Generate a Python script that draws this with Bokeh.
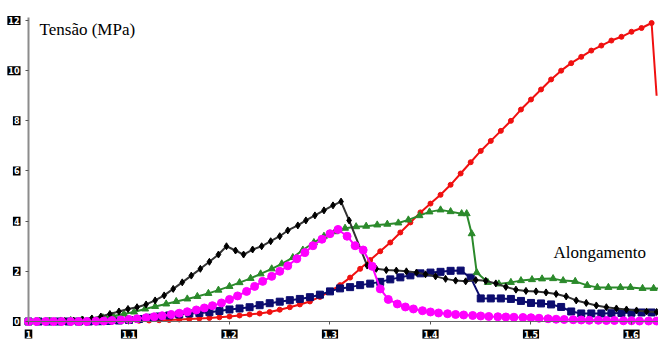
from bokeh.plotting import figure
from bokeh.models import Range1d, FixedTicker, Label
from bokeh.embed import file_html
from bokeh.resources import INLINE

# ---- data ----
red_x = [1.00, 1.01, 1.02, 1.03, 1.04, 1.05, 1.06, 1.07, 1.08, 1.09, 1.10, 1.11, 1.12, 1.13, 1.14,
         1.15, 1.16, 1.17, 1.18, 1.19, 1.20, 1.21, 1.22, 1.23, 1.24, 1.25, 1.26, 1.27, 1.28, 1.29,
         1.30, 1.31, 1.32, 1.33, 1.34, 1.35, 1.36, 1.37, 1.38, 1.39, 1.40, 1.41, 1.42, 1.43, 1.44,
         1.45, 1.46, 1.47, 1.48, 1.49, 1.50, 1.51, 1.52, 1.53, 1.54, 1.55, 1.56, 1.57, 1.58, 1.59,
         1.60, 1.61, 1.62, 1.625]
red_y = [0, 0, 0, 0, 0, 0, 0, 0, 0, 0.01, 0.02, 0.03, 0.04, 0.05, 0.06,
         0.08, 0.10, 0.12, 0.14, 0.17, 0.20, 0.24, 0.28, 0.32, 0.38, 0.47, 0.57, 0.68, 0.80, 0.98,
         1.20, 1.45, 1.75, 2.10, 2.45, 2.80, 3.15, 3.55, 3.95, 4.35, 4.70, 5.05, 5.45, 5.90, 6.35,
         6.80, 7.20, 7.60, 8.00, 8.45, 8.85, 9.25, 9.65, 10.0, 10.3, 10.55, 10.8, 11.0, 11.2, 11.35,
         11.55, 11.7, 11.9, 9.0]

black_x = [1.000, 1.009, 1.018, 1.027, 1.036, 1.045, 1.054, 1.063, 1.072, 1.081, 1.090, 1.099,
           1.108, 1.117, 1.126, 1.135, 1.144, 1.153, 1.162, 1.171, 1.180, 1.189, 1.197, 1.206,
           1.214, 1.223, 1.232, 1.241, 1.250, 1.258, 1.268, 1.276, 1.285, 1.294, 1.303, 1.311,
           1.319, 1.337, 1.346, 1.356, 1.366, 1.376, 1.386, 1.395, 1.405, 1.415, 1.425, 1.435,
           1.445, 1.455, 1.465, 1.475, 1.485, 1.495, 1.505, 1.515, 1.525, 1.535, 1.545, 1.555,
           1.565, 1.575, 1.585, 1.595, 1.605, 1.615, 1.625]
black_y = [0, 0, 0, 0, 0.02, 0.04, 0.07, 0.12, 0.20, 0.30, 0.40, 0.50,
           0.57, 0.68, 0.84, 1.04, 1.30, 1.56, 1.83, 2.10, 2.38, 2.67, 3.00, 2.83,
           2.67, 2.87, 3.00, 3.20, 3.40, 3.63, 3.83, 4.03, 4.23, 4.43, 4.63, 4.78,
           4.03, 2.23, 2.10, 2.05, 2.03, 2.00, 1.95, 1.88, 1.80, 1.70, 1.63, 1.60,
           1.65, 1.62, 1.52, 1.38, 1.27, 1.22, 1.20, 1.16, 1.10, 1.00, 0.84, 0.74,
           0.64, 0.57, 0.52, 0.48, 0.44, 0.40, 0.38]

green_x = [1.000, 1.011, 1.021, 1.032, 1.042, 1.053, 1.063, 1.074, 1.084, 1.095, 1.105, 1.116,
           1.126, 1.137, 1.147, 1.158, 1.168, 1.179, 1.189, 1.200, 1.210, 1.221, 1.231, 1.242,
           1.252, 1.263, 1.273, 1.284, 1.294, 1.305, 1.315, 1.326, 1.336, 1.347, 1.357, 1.368,
           1.378, 1.389, 1.399, 1.410, 1.420, 1.431, 1.436, 1.441, 1.446, 1.457, 1.468, 1.480,
           1.490, 1.501, 1.511, 1.522, 1.532, 1.544, 1.556, 1.566, 1.577, 1.589, 1.599, 1.611,
           1.622, 1.632]
green_y = [0, 0, 0.01, 0.02, 0.04, 0.06, 0.10, 0.15, 0.22, 0.30, 0.38, 0.50,
           0.60, 0.70, 0.80, 0.90, 1.00, 1.12, 1.25, 1.40, 1.55, 1.72, 1.90, 2.10,
           2.30, 2.55, 2.85, 3.15, 3.40, 3.58, 3.72, 3.78, 3.80, 3.85, 3.88, 3.93,
           4.05, 4.22, 4.37, 4.45, 4.38, 4.30, 4.30, 3.50, 1.95, 1.56, 1.50, 1.56,
           1.63, 1.67, 1.70, 1.71, 1.63, 1.60, 1.44, 1.36, 1.36, 1.36, 1.36, 1.32,
           1.32, 1.30]

navy_x = [1.00, 1.01, 1.02, 1.03, 1.04, 1.05, 1.06, 1.07, 1.08, 1.09, 1.10, 1.11, 1.12, 1.13,
          1.14, 1.15, 1.16, 1.17, 1.18, 1.19, 1.20, 1.21, 1.22, 1.23, 1.24, 1.25, 1.26, 1.27,
          1.28, 1.29, 1.30, 1.31, 1.32, 1.33, 1.34, 1.35, 1.36, 1.37, 1.38, 1.39, 1.40, 1.41,
          1.42, 1.43, 1.44, 1.45, 1.46, 1.47, 1.48, 1.49, 1.50, 1.51, 1.52, 1.53, 1.54, 1.55,
          1.56, 1.57, 1.58, 1.59, 1.60, 1.61, 1.62]
navy_y = [0, 0, 0, 0, 0, 0, 0, 0.01, 0.02, 0.04, 0.06, 0.10, 0.15, 0.20,
          0.24, 0.28, 0.32, 0.34, 0.37, 0.42, 0.48, 0.52, 0.57, 0.65, 0.73, 0.79, 0.85, 0.90,
          0.97, 1.07, 1.20, 1.32, 1.37, 1.45, 1.51, 1.58, 1.68, 1.76, 1.84, 1.92, 1.95, 1.98,
          2.02, 2.03, 1.75, 0.92, 0.92, 0.92, 0.90, 0.82, 0.74, 0.72, 0.68, 0.58, 0.40, 0.32,
          0.32, 0.32, 0.33, 0.34, 0.35, 0.36, 0.36]

magenta_x = [1.000, 1.008, 1.017, 1.025, 1.033, 1.042, 1.050, 1.058, 1.067, 1.075, 1.083, 1.092,
             1.100, 1.108, 1.117, 1.125, 1.133, 1.142, 1.150, 1.158, 1.167, 1.175, 1.183, 1.192,
             1.200, 1.208, 1.217, 1.225, 1.233, 1.242, 1.250, 1.258, 1.267, 1.275, 1.283, 1.292,
             1.300, 1.308, 1.317, 1.325, 1.333, 1.342, 1.350, 1.358, 1.367, 1.375, 1.383, 1.392,
             1.400, 1.408, 1.417, 1.425, 1.433, 1.442, 1.450, 1.458, 1.467, 1.475, 1.483, 1.492,
             1.500, 1.508, 1.517, 1.525, 1.533, 1.542, 1.550, 1.558, 1.567, 1.575, 1.583, 1.592,
             1.600, 1.608, 1.617, 1.625]
magenta_y = [0, 0, 0, 0, 0, 0, 0, 0, 0.01, 0.02, 0.04, 0.06,
             0.08, 0.11, 0.15, 0.19, 0.23, 0.28, 0.33, 0.39, 0.46, 0.54, 0.63, 0.74,
             0.88, 1.02, 1.20, 1.40, 1.60, 1.80, 2.00, 2.22, 2.50, 2.75, 3.02, 3.28,
             3.50, 3.67, 3.40, 3.02, 2.85, 2.20, 1.30, 0.88, 0.70, 0.58, 0.50, 0.43,
             0.38, 0.34, 0.31, 0.28, 0.26, 0.24, 0.22, 0.20, 0.19, 0.18, 0.17, 0.16,
             0.15, 0.13, 0.11, 0.09, 0.08, 0.07, 0.06, 0.05, 0.05, 0.04, 0.04, 0.03,
             0.03, 0.02, 0.02, 0.02]

x_ticks = [1.0, 1.1, 1.2, 1.3, 1.4, 1.5, 1.6]
x_tick_labels = ["1", "1.1", "1.2", "1.3", "1.4", "1.5", "1.6"]
y_ticks = [0, 2, 4, 6, 8, 10, 12]
y_tick_labels = ["0", "2", "4", "6", "8", "10", "12"]

y_title = "Tensão (MPa)"
x_title = "Alongamento"

# ---- figure ----
p = figure(width=658, height=342, output_backend="svg", toolbar_location=None,
           x_range=Range1d(0.97214, 1.62687), y_range=Range1d(-0.837, 12.797),
           min_border_left=0, min_border_right=0, min_border_top=0, min_border_bottom=0)
p.outline_line_color = None
p.grid.visible = False
p.background_fill_color = "white"
p.border_fill_color = "white"

p.xaxis.fixed_location = 0
p.yaxis.fixed_location = 1.0
p.xaxis.ticker = FixedTicker(ticks=x_ticks)
p.yaxis.ticker = FixedTicker(ticks=y_ticks)
p.xaxis.bounds = (1.0, 1.627)
p.yaxis.bounds = (0, 12.1)
p.yaxis.axis_line_color = "#8c8c8c"
p.yaxis.axis_line_width = 2
p.xaxis.axis_line_color = "#666666"
p.xaxis.axis_line_width = 1
for ax in (p.xaxis, p.yaxis):
    ax.minor_tick_line_color = None
    ax.major_tick_in = 0
    ax.major_tick_out = 3
    ax.major_tick_line_color = "#555555"
    ax.major_label_text_alpha = 0
    ax.major_label_text_font_size = "1px"

# tick labels: white text on black boxes
for t, s in zip(y_ticks, y_tick_labels):
    p.add_layout(Label(x=1.0, y=t, x_offset=-8, text=s, text_align="right",
                       text_baseline="middle", text_font="DejaVu Sans", text_font_style="bold",
                       text_font_size="8px", text_color="white",
                       background_fill_color="black", padding=1))
for t, s in zip(x_ticks, x_tick_labels):
    p.add_layout(Label(x=t, y=-0.5, text=s, text_align="center",
                       text_baseline="middle", text_font="DejaVu Sans", text_font_style="bold",
                       text_font_size="8px", text_color="white",
                       background_fill_color="black", padding=1))

# ---- series ----
p.line(red_x, red_y, line_color="#f01010", line_width=2)
p.scatter(red_x[:-1], red_y[:-1], marker="circle", size=5, fill_color="#f01010", line_color="#f01010")

p.line(navy_x, navy_y, line_color="#0c0c6e", line_width=2)
p.scatter(navy_x, navy_y, marker="square", size=7, fill_color="#0c0c6e", line_color="#0c0c6e")

p.line(green_x, green_y, line_color="#2b8a2b", line_width=2)
p.scatter(green_x, green_y, marker="triangle", size=7, fill_color="#2b8a2b", line_color="#2b8a2b")

p.line(black_x, black_y, line_color="#333333", line_width=2)
p.scatter(black_x, black_y, marker="diamond", size=7, fill_color="black", line_color="black")

p.line(magenta_x, magenta_y, line_color="#ff00ff", line_width=2)
p.scatter(magenta_x, magenta_y, marker="circle", size=8, fill_color="#ff00ff", line_color="#ff00ff")

p.add_layout(Label(x=1.011, y=11.65, text=y_title, text_font="Liberation Serif",
                   text_font_size="17px", text_baseline="middle", text_align="left",
                   text_color="black"))
p.add_layout(Label(x=1.5224, y=2.75, text=x_title, text_font="Liberation Serif",
                   text_font_size="17px", text_baseline="middle", text_align="left",
                   text_color="black"))

open("out.html", "w").write(file_html(p, INLINE))
